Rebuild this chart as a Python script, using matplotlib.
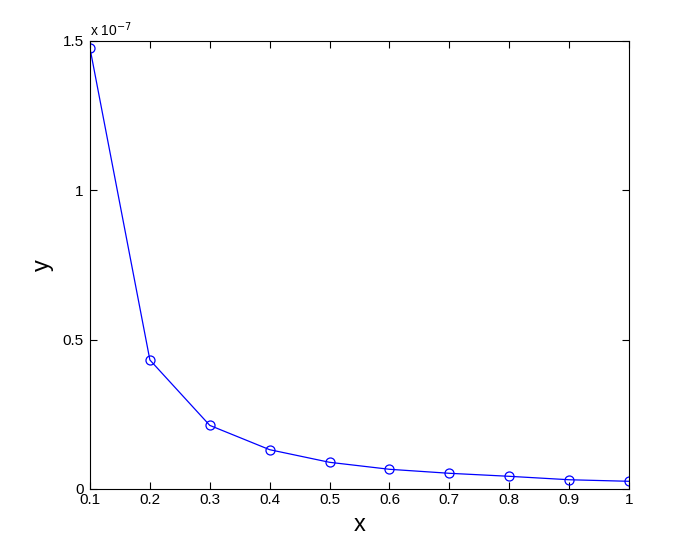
import matplotlib
matplotlib.use("Agg")
import matplotlib.pyplot as plt

x_vals = [0.1, 0.2, 0.3, 0.4, 0.5, 0.6, 0.7, 0.8, 0.9, 1.0]
y_vals = [1.4755e-7, 0.432e-7, 0.213e-7, 0.1316e-7, 0.0894e-7,
          0.066e-7, 0.0526e-7, 0.0425e-7, 0.031e-7, 0.0258e-7]
x_ticks = [0.1, 0.2, 0.3, 0.4, 0.5, 0.6, 0.7, 0.8, 0.9, 1.0]
x_tick_labels = ["0.1", "0.2", "0.3", "0.4", "0.5", "0.6", "0.7", "0.8", "0.9", "1"]
y_ticks = [0, 0.5e-7, 1.0e-7, 1.5e-7]
y_tick_labels = ["0", "0.5", "1", "1.5"]

plt.rcParams['font.family'] = ['Liberation Sans', 'DejaVu Sans']

fig = plt.figure(figsize=(6.95, 5.49), dpi=100)
ax = fig.add_axes([90/695, 60/549, 539/695, 448/549])
ax.plot(x_vals, y_vals, color='#0000ff', linewidth=0.9, marker='o',
        markersize=6.5, markerfacecolor='none', markeredgecolor='#0000ff',
        markeredgewidth=0.9)
ax.set_xlim(0.1, 1.0)
ax.set_ylim(0, 1.5e-7)
ax.set_xticks(x_ticks)
ax.set_xticklabels(x_tick_labels)
ax.set_yticks(y_ticks)
ax.set_yticklabels(y_tick_labels)
ax.tick_params(direction='in', top=True, right=True, length=5, width=0.8,
               labelsize=11)
ax.tick_params(axis='y', pad=4.5)
ax.tick_params(axis='x', pad=3)
for s in ax.spines.values():
    s.set_linewidth(0.8)
ax.set_xlabel('x', fontsize=17, labelpad=5)
ax.set_ylabel('y', fontsize=17, labelpad=6)
ax.text(0.0, 1.005, r'x 10$^{-7}$', transform=ax.transAxes, fontsize=10,
        ha='left', va='bottom')
fig.savefig('out.png', dpi=100)
